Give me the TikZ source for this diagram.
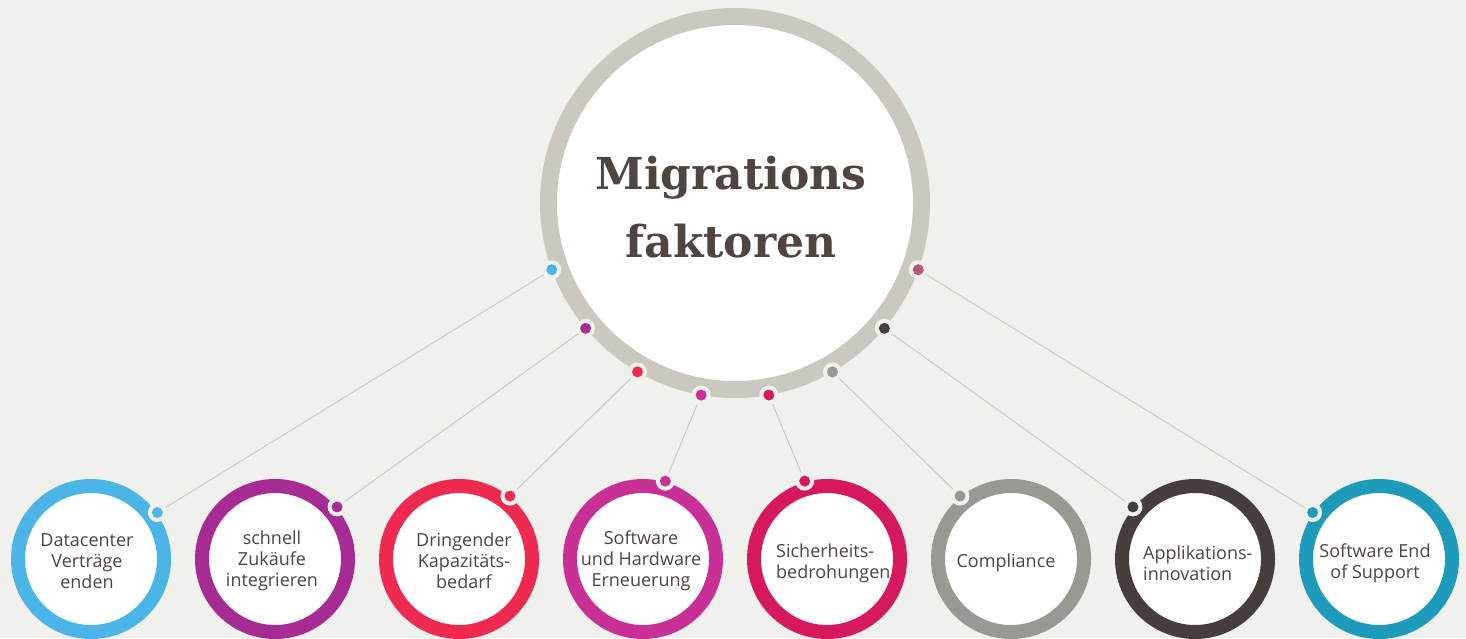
\documentclass[tikz,border=0pt]{standalone}
\usepackage{fontspec}
\setmainfont{Open Sans}
\newfontfamily\titlefont{DejaVu Serif}
\usetikzlibrary{calc}
\definecolor{bg}{HTML}{F0F0EC}
\definecolor{ringgray}{HTML}{CBC8C1}
\definecolor{txt}{HTML}{4F4440}
\definecolor{conn}{HTML}{C9C8C3}
\definecolor{cA}{HTML}{4CB5E7}
\definecolor{cB}{HTML}{A62B93}
\definecolor{cC}{HTML}{EE2A50}
\definecolor{cD}{HTML}{C93095}
\definecolor{cE}{HTML}{D6195E}
\definecolor{cF}{HTML}{9A9893}
\definecolor{cG}{HTML}{463E3C}
\definecolor{cH}{HTML}{1E9BBA}
\definecolor{cR}{HTML}{B9567A}
\pgfdeclarelayer{bgl}
\pgfdeclarelayer{lines}
\pgfsetlayers{bgl,lines,main}
\tikzset{
  bigring/.style={circle, draw=ringgray, line width=17pt, fill=white, minimum size=373pt, inner sep=0pt, outer sep=0pt},
  smallring/.style={circle, line width=14pt, fill=white, minimum size=146pt, inner sep=0pt, outer sep=0pt},
  conline/.style={draw=conn, line width=0.9pt},
  halo/.style={circle, fill=bg, minimum size=19pt, inner sep=0pt},
  dotc/.style={circle, minimum size=11pt, inner sep=0pt},
  label/.style={font=\fontsize{18}{21}\selectfont, text=txt, inner sep=0pt},
  titletext/.style={font=\titlefont\bfseries\fontsize{44}{68}\selectfont, text=txt, inner sep=0pt, anchor=base}
}
\begin{document}
\begin{tikzpicture}[x=1pt,y=1pt]
\begin{pgfonlayer}{bgl}
\fill[bg] (0,0) rectangle (1466,-638);
\end{pgfonlayer}
\useasboundingbox (0,0) rectangle (1466,-638);

\node[bigring] (big) at (735,-203) {};
\node[titletext] (title1) at (731,-189) {Migrations};
\node[titletext] (title2) at (731,-257) {faktoren};

\foreach \i/\x/\ba/\sa/\col/\bcol in {1/91/200/35/cA/cA, 2/275/220/40/cB/cB, 3/459/240/51/cC/cC, 4/643/260/74/cD/cD, 5/827/280/106/cE/cE, 6/1011/300/129/cF/cF, 7/1195/320/140/cG/cG, 8/1379/340/145/cH/cR} {
  \node[smallring, draw=\col] (c\i) at (\x,-559) {};
  \coordinate (bd\i) at ($(big.center)+(\ba:195)$);
  \coordinate (sd\i) at ($(c\i.center)+(\sa:81)$);
  \begin{pgfonlayer}{lines}
  \draw[conline] (bd\i) -- (sd\i);
  \end{pgfonlayer}
  \node[halo] (bh\i) at (bd\i) {};
  \node[dotc, fill=\bcol] (bdot\i) at (bd\i) {};
  \node[halo] (sh\i) at (sd\i) {};
  \node[dotc, fill=\col] (sdot\i) at (sd\i) {};
}

\node[label, align=center] (t1) at (87,-561) {Datacenter\\Verträge\\enden};
\node[label, align=center] (t2) at (272,-561) {schnell\\Zukäufe\\integrieren};
\node[label, align=center] (t3) at (464,-561) {Dringender\\Kapazitäts-\\bedarf};
\node[label, align=center] (t4) at (641,-561) {Software\\und Hardware\\Erneuerung};
\node[label, align=left, anchor=west] (t5) at (776,-563) {Sicherheits-\\bedrohungen};
\node[label, align=center] (t6) at (1006,-563) {Compliance};
\node[label, align=left, anchor=west] (t7) at (1143,-563) {Applikations-\\innovation};
\node[label, align=center] (t8) at (1375,-563) {Software End\\of Support};
\end{tikzpicture}
\end{document}
